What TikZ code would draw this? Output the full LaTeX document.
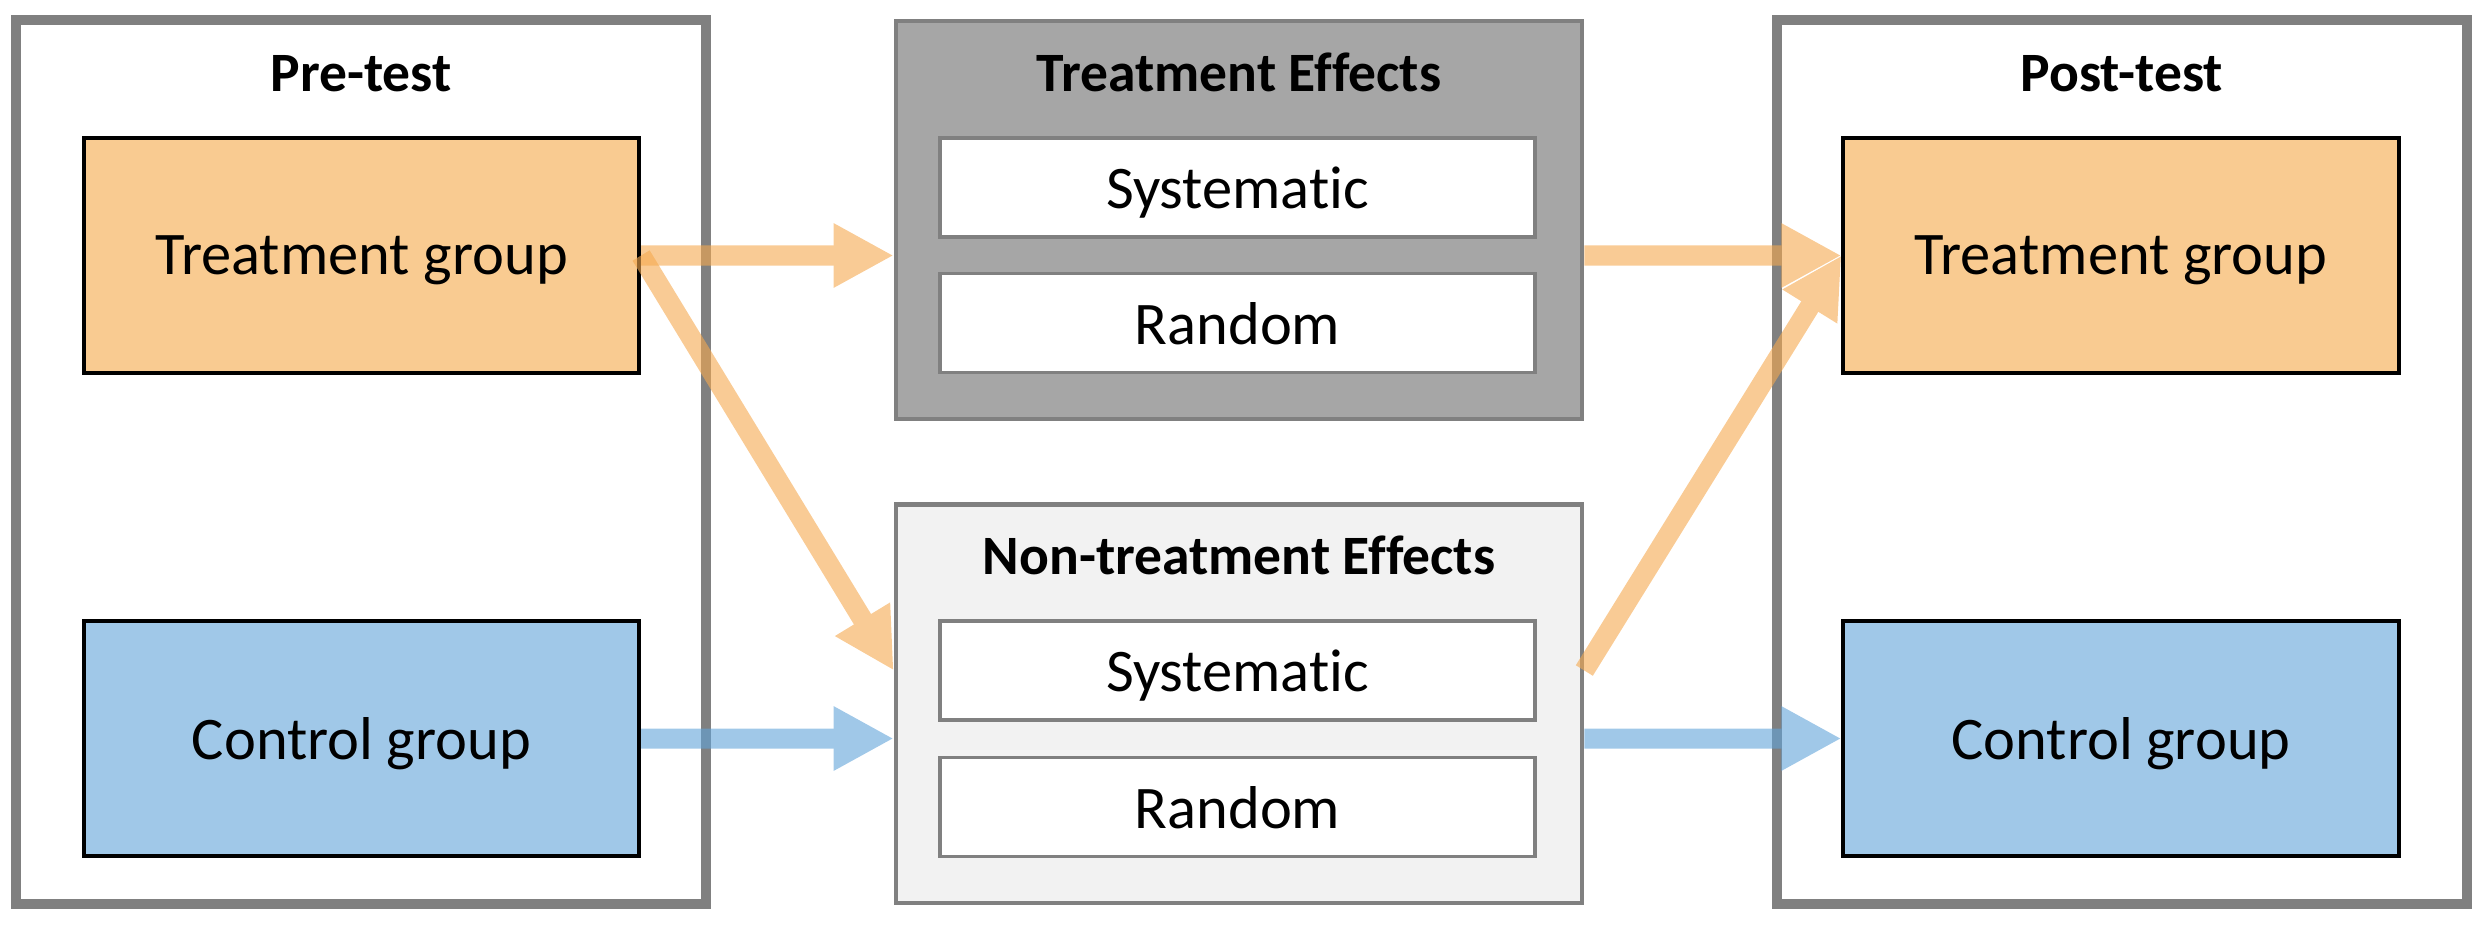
\documentclass[tikz,border=0pt]{standalone}
\usepackage{fontspec}
\setmainfont{Carlito}[Ligatures=NoCommon]
\usetikzlibrary{arrows.meta}

\definecolor{orangebox}{RGB}{249,203,145}
\definecolor{bluebox}{RGB}{160,200,232}
\definecolor{orangeflow}{RGB}{245,169,79}
\definecolor{blueflow}{RGB}{97,163,217}
\definecolor{framegray}{RGB}{128,128,128}
\definecolor{darkfx}{RGB}{166,166,166}
\definecolor{lightfx}{RGB}{242,242,242}

\tikzset{
    stagebox/.style={draw=framegray, line width=2.85pt, minimum width=6.9cm, minimum height=8.83cm},
    stagetitle/.style={anchor=base, font=\fontsize{15.8}{19}\selectfont\bfseries},
    groupbox/.style={draw=black, line width=1.1pt, minimum width=5.55cm, minimum height=2.35cm,
        text depth=0pt, font=\fontsize{17.2}{20}\selectfont},
    effectbox/.style={draw=framegray, line width=1.2pt, minimum width=6.86cm, minimum height=3.98cm},
    effectpart/.style={draw=framegray, fill=white, line width=1pt, minimum width=5.95cm, minimum height=0.99cm,
        text depth=0pt, font=\fontsize{17.2}{20}\selectfont},
    flow/.style={line width=0.2cm, -{Triangle[width=0.6cm, length=0.6cm]}},
}

\begin{document}
\begin{tikzpicture}[x=0.01cm, y=-0.01cm]
    \useasboundingbox (0,0) rectangle (2486,924);

    % Pre-test (left)
    \begin{scope}
        \node[stagebox] (pre) at (361,462) {};
        \node[stagetitle] (pretitle) at (361,91) {Pre-test};
        \node[groupbox, fill=orangebox] (pretg) at (361.5,255.5) {Treatment group};
        \node[groupbox, fill=bluebox] (precg) at (361.5,738.5) {Control group};
    \end{scope}

    % Effects (middle)
    \begin{scope}
        \node[effectbox, fill=darkfx] (te) at (1239,220) {};
        \node[stagetitle] (tetitle) at (1239,91) {Treatment Effects};
        \node[effectpart] (tesys) at (1237.5,187.5) {Systematic};
        \node[effectpart] (terand) at (1237.5,323) {Random};

        \node[effectbox, fill=lightfx] (nte) at (1239,703.5) {};
        \node[stagetitle] (ntetitle) at (1239,574) {Non-treatment Effects};
        \node[effectpart] (ntesys) at (1237.5,670.5) {Systematic};
        \node[effectpart] (nterand) at (1237.5,807) {Random};
    \end{scope}

    % Post-test (right)
    \begin{scope}
        \node[stagebox] (post) at (2122,462) {};
        \node[stagetitle] (posttitle) at (2122,91) {Post-test};
        \node[groupbox, fill=orangebox] (posttg) at (2121,255.5) {Treatment group};
        \node[groupbox, fill=bluebox] (postcg) at (2121,738.5) {Control group};
    \end{scope}

    % Flows
    \foreach \from/\to/\col in {
        pretg.east/pretg.east -| te.west/orangeflow,
        pretg.east/ntesys -| nte.west/orangeflow,
        precg.east/precg.east -| nte.west/blueflow,
        posttg -| te.east/posttg.west/orangeflow,
        ntesys -| nte.east/posttg.west/orangeflow,
        postcg -| nte.east/postcg.west/blueflow} {
        \begin{scope}[transparency group, opacity=0.6]
            \draw[flow, \col] (\from) -- (\to);
        \end{scope}
    }
\end{tikzpicture}
\end{document}
